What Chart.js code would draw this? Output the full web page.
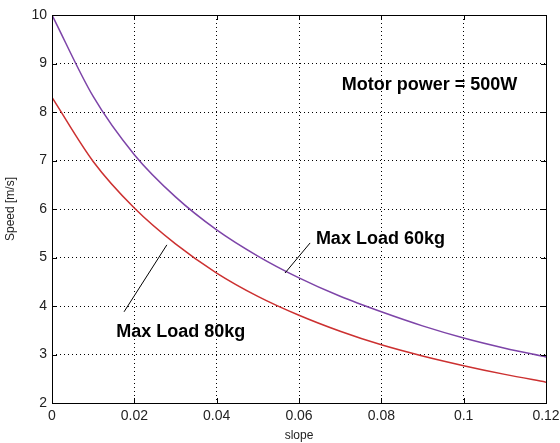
<!DOCTYPE html>
<html>
<head>
<meta charset="utf-8">
<script src="https://cdn.jsdelivr.net/npm/chart.js@4"></script>
<style>
  html, body { margin: 0; padding: 0; background: #fff; }
  #wrap { width: 560px; height: 443px; }
</style>
</head>
<body>
<div id="wrap"><canvas id="chart" width="560" height="443"></canvas></div>
<script>
// datos
const slope = [0, 0.01, 0.02, 0.03, 0.04, 0.05, 0.06, 0.07, 0.08, 0.09, 0.1, 0.11, 0.12];
const speed60 = [10.0, 8.32, 7.12, 6.25, 5.57, 5.03, 4.58, 4.2, 3.88, 3.59, 3.34, 3.13, 2.95];
const speed80 = [8.3, 6.98, 6.02, 5.28, 4.68, 4.2, 3.81, 3.48, 3.2, 2.97, 2.77, 2.59, 2.43];

const xTicks = [0, 0.02, 0.04, 0.06, 0.08, 0.1, 0.12];
const yTicks = [2, 3, 4, 5, 6, 7, 8, 9, 10];

// textos y flechas (coordenadas en unidades de datos)
const notas = [
    { text: "Motor power = 500W", x: 0.0704, y: 8.56 },
    { text: "Max Load 60kg", x: 0.0641, y: 5.38 },
    { text: "Max Load 80kg", x: 0.0156, y: 3.46 }
];
const flechas = [
    { x1: 0.0627, y1: 5.30, x2: 0.0566, y2: 4.68 },
    { x1: 0.0175, y1: 3.88, x2: 0.0279, y2: 5.26 }
];

const puntos = (ys) => slope.map((x, i) => ({ x, y: ys[i] }));

// cuadro, ticks hacia dentro y anotaciones
const estiloMatlab = {
    id: "estiloMatlab",
    afterDraw(chart) {
        const { ctx, chartArea: a, scales } = chart;
        const sx = scales.x, sy = scales.y;
        ctx.save();
        ctx.strokeStyle = "#000";
        ctx.lineWidth = 1;
        ctx.beginPath();
        xTicks.forEach(v => {
            const px = Math.round(sx.getPixelForValue(v)) + 0.5;
            ctx.moveTo(px, a.bottom); ctx.lineTo(px, a.bottom - 5);
            ctx.moveTo(px, a.top); ctx.lineTo(px, a.top + 5);
        });
        yTicks.forEach(v => {
            const py = Math.round(sy.getPixelForValue(v)) + 0.5;
            ctx.moveTo(a.left, py); ctx.lineTo(a.left + 5, py);
            ctx.moveTo(a.right, py); ctx.lineTo(a.right - 5, py);
        });
        ctx.stroke();
        ctx.strokeRect(Math.round(a.left) + 0.5, Math.round(a.top) + 0.5,
            Math.round(a.right - a.left), Math.round(a.bottom - a.top));

        ctx.beginPath();
        flechas.forEach(f => {
            ctx.moveTo(sx.getPixelForValue(f.x1), sy.getPixelForValue(f.y1));
            ctx.lineTo(sx.getPixelForValue(f.x2), sy.getPixelForValue(f.y2));
        });
        ctx.stroke();

        ctx.fillStyle = "#000";
        ctx.font = "bold 18px 'Liberation Sans', Arial, sans-serif";
        ctx.textAlign = "left";
        ctx.textBaseline = "middle";
        notas.forEach(n => {
            ctx.fillText(n.text, sx.getPixelForValue(n.x), sy.getPixelForValue(n.y));
        });
        ctx.restore();
    }
};

const fondoBlanco = {
    id: "fondoBlanco",
    beforeDraw(chart) {
        const ctx = chart.ctx;
        ctx.save();
        ctx.fillStyle = "#fff";
        ctx.fillRect(0, 0, chart.width, chart.height);
        ctx.restore();
    }
};

new Chart(document.getElementById("chart").getContext("2d"), {
    type: "line",
    data: {
        datasets: [
            {
                label: "Max Load 60kg",
                data: puntos(speed60),
                borderColor: "#7d44a8",
                borderWidth: 1.5,
                pointRadius: 0,
                cubicInterpolationMode: "monotone",
                fill: false
            },
            {
                label: "Max Load 80kg",
                data: puntos(speed80),
                borderColor: "#cc3030",
                borderWidth: 1.5,
                pointRadius: 0,
                cubicInterpolationMode: "monotone",
                fill: false
            }
        ]
    },
    options: {
        responsive: false,
        animation: false,
        layout: { padding: { top: 15, right: 14, left: 0, bottom: 0 } },
        plugins: {
            legend: { display: false },
            tooltip: { enabled: false }
        },
        scales: {
            x: {
                type: "linear",
                min: 0,
                max: 0.12,
                afterBuildTicks: (s) => { s.ticks = xTicks.map(v => ({ value: v })); },
                afterFit: (s) => { s.height = 40; s.paddingLeft = 0; s.paddingRight = 0; },
                ticks: {
                    color: "#222",
                    font: { family: "'Liberation Sans', Arial, sans-serif", size: 14 },
                    padding: 5,
                    maxRotation: 0,
                    autoSkip: false,
                    callback: (v) => String(Number(v.toFixed(2)))
                },
                grid: { color: "#000", lineWidth: 1, drawTicks: false },
                border: { display: false, dash: [1, 3] },
                title: {
                    display: true,
                    text: "slope",
                    color: "#222",
                    font: { family: "'Liberation Sans', Arial, sans-serif", size: 12 },
                    padding: { top: 0, bottom: 0 }
                }
            },
            y: {
                min: 2,
                max: 10,
                afterBuildTicks: (s) => { s.ticks = yTicks.map(v => ({ value: v })); },
                afterFit: (s) => { s.width = 52; s.paddingTop = 0; s.paddingBottom = 0; },
                ticks: {
                    color: "#222",
                    font: { family: "'Liberation Sans', Arial, sans-serif", size: 14 },
                    padding: 5
                },
                grid: { color: "#000", lineWidth: 1, drawTicks: false },
                border: { display: false, dash: [1, 3] },
                title: {
                    display: true,
                    text: "Speed [m/s]",
                    color: "#222",
                    font: { family: "'Liberation Sans', Arial, sans-serif", size: 12 },
                    padding: { top: 3, bottom: 0 }
                }
            }
        }
    },
    plugins: [fondoBlanco, estiloMatlab]
});
</script>
</body>
</html>
